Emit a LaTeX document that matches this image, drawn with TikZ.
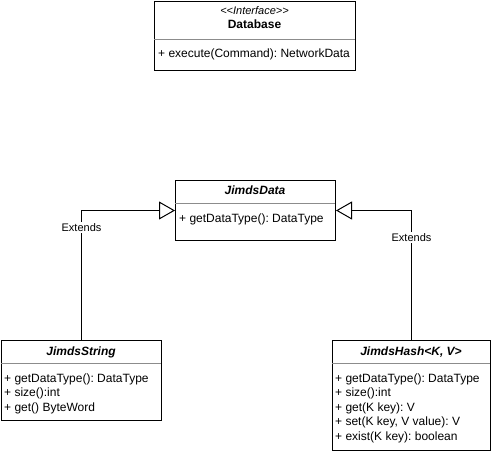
\documentclass[tikz,border=0pt]{standalone}
\usepackage{fontspec}
\setmainfont{Liberation Sans}[Ligatures=TeXOff]
\usetikzlibrary{arrows.meta}
\frenchspacing

\tikzset{
  classbox/.style={draw, line width=1pt, anchor=north west, inner sep=0pt},
  sepline/.style={draw=black!45, line width=0.8pt},
  stereo/.style={anchor=base, inner sep=0pt, font=\fontsize{11}{13}\selectfont\itshape},
  ctitle/.style={anchor=base, inner sep=0pt, font=\fontsize{12}{14}\selectfont\bfseries},
  atitle/.style={ctitle, font=\fontsize{12}{14}\selectfont\bfseries\itshape},
  memb/.style={anchor=base west, inner sep=0pt, font=\fontsize{12}{14}\selectfont},
  extends/.style={draw, line width=1pt, -{Triangle[open, fill=white, length=16pt, width=18pt]}},
  elabel/.style={fill=white, inner sep=1.5pt, font=\fontsize{11}{13}\selectfont}
}

\begin{document}
\begin{tikzpicture}[x=1pt,y=-1pt]
    \useasboundingbox (0,0) rectangle (492,451);
    %\draw[lightgray] (0,0) grid[step=20] (492,451);

    % interface
    \node[classbox, minimum width=201pt, minimum height=69pt] (db) at (154,1) {};
    \draw[sepline] (154,39) -- (355,39);
    \node[stereo] (dbst) at (254.5,14) {<<Interface>>};
    \node[ctitle] (dbname) at (254.5,28.3) {Database};
    \node[memb] (dbm) at (158,57.3) {+ execute(Command): NetworkData};

    % abstract base
    \node[classbox, minimum width=160pt, minimum height=60pt] (data) at (175,180) {};
    \draw[sepline] (175,203) -- (335,203);
    \node[atitle] (dataname) at (255,194.3) {JimdsData};
    \node[memb] (datam) at (179,222.3) {+ getDataType(): DataType};

    % string
    \node[classbox, minimum width=160pt, minimum height=80pt] (str) at (1,340) {};
    \draw[sepline] (1,363) -- (161,363);
    \node[atitle] (strname) at (81,355.3) {JimdsString};
    \foreach \m [count=\i] in {{+ getDataType(): DataType}, {+ size():int}, {+ get() ByteWord}}
        \node[memb] (strm\i) at (4,{382.3+14.5*(\i-1)}) {\m};

    % hash
    \node[classbox, minimum width=158pt, minimum height=110pt] (hash) at (332,340) {};
    \draw[sepline] (332,363) -- (490,363);
    \node[atitle] (hashname) at (411,355.3) {JimdsHash<K, V>};
    \foreach \m [count=\i] in {{+ getDataType(): DataType}, {+ size():int}, {+ get(K key): V},
                                {+ set(K key, V value): V}, {+ exist(K key): boolean}}
        \node[memb] (hashm\i) at (335,{382.3+14.5*(\i-1)}) {\m};

    % inheritance
    \draw[extends] (str.north) |- node[elabel, pos=0.435] (ext1) {Extends} (data.west);
    \draw[extends] (hash.north) |- node[elabel, pos=0.396] (ext2) {Extends} (data.east);
\end{tikzpicture}
\end{document}
